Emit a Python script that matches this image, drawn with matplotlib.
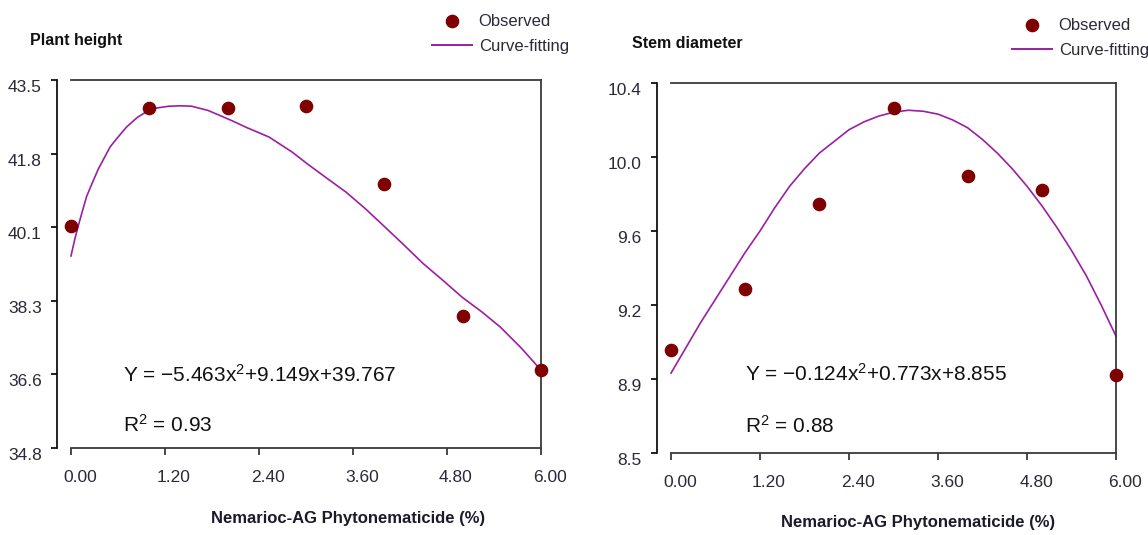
import matplotlib
matplotlib.use("Agg")
import matplotlib.pyplot as plt
import matplotlib.transforms as mtrans
import numpy as np
from matplotlib.lines import Line2D

# ---------------- data ----------------
conc = [0, 1, 2, 3, 4, 5, 6]
height_obs = [40.05, 42.84, 42.84, 42.88, 41.04, 37.92, 36.64]
stem_obs = [9.03, 9.34, 9.78, 10.27, 9.92, 9.85, 8.90]

height_fit_x = [0.00, 0.05, 0.10, 0.15, 0.20, 0.27, 0.35, 0.50, 0.60, 0.71, 0.85, 1.00,
                1.10, 1.25, 1.40, 1.54, 1.75, 2.04, 2.25, 2.53, 2.82, 3.03, 3.25,
                3.51, 3.75, 4.01, 4.25, 4.49, 4.75, 4.99, 5.25, 5.48, 5.75, 6.00]
height_fit_y = [39.34, 39.75, 40.10, 40.43, 40.75, 41.06, 41.40, 41.92, 42.15, 42.39, 42.62, 42.79,
                42.84, 42.88, 42.89, 42.88, 42.78, 42.55, 42.37, 42.15, 41.80, 41.50, 41.20,
                40.85, 40.47, 40.02, 39.60, 39.17, 38.76, 38.37, 38.01, 37.66, 37.16, 36.64]

stem_fit_x = [0.0, 0.2, 0.4, 0.6, 0.8, 1.0, 1.2, 1.4, 1.6, 1.8, 2.0, 2.2, 2.4, 2.6, 2.8, 3.0,
              3.2, 3.4, 3.6, 3.8, 4.0, 4.2, 4.4, 4.6, 4.8, 5.0, 5.2, 5.4, 5.6, 5.8, 6.0]
stem_fit_y = [8.91, 9.04, 9.17, 9.29, 9.41, 9.53, 9.64, 9.76, 9.87, 9.96, 10.04, 10.10, 10.16,
              10.20, 10.23, 10.25, 10.26, 10.255, 10.24, 10.21, 10.17, 10.11, 10.04, 9.96, 9.87,
              9.77, 9.66, 9.54, 9.41, 9.26, 9.10]

x_tick_labels = ["0.00", "1.20", "2.40", "3.60", "4.80", "6.00"]
height_ylim = (34.8, 43.5)
height_tick_labels = ["34.8", "36.6", "38.3", "40.1", "41.8", "43.5"]
stem_ylim = (8.5, 10.4)
stem_tick_labels = ["8.5", "8.9", "9.2", "9.6", "10.0", "10.4"]

titles = ["Plant height", "Stem diameter"]
equations = ["Y = \u22125.463x$^2$+9.149x+39.767", "Y = \u22120.124x$^2$+0.773x+8.855"]
r2_texts = ["R$^2$ = 0.93", "R$^2$ = 0.88"]
xlabel = "Nemarioc-AG Phytonematicide (%)"

# ---------------- style ----------------
plt.rcParams["mathtext.fontset"] = "custom"
plt.rcParams["mathtext.rm"] = "Liberation Sans"
plt.rcParams["mathtext.it"] = "Liberation Sans"
plt.rcParams["mathtext.bf"] = "Liberation Sans:bold"

FONT = ["Liberation Sans", "DejaVu Sans"]
OBS_COLOR = "#7f0000"
FIT_COLOR = "#9b1fa3"
TXT = "#2a2a38"

W, H = 1148, 535
fig = plt.figure(figsize=(W / 100, H / 100), dpi=100)

def fx(px):
    return px / W

def fy(py):
    return 1 - py / H

panels = [
    dict(rect=(71, 80, 541, 448), obs=height_obs, fx_=height_fit_x, fy_=height_fit_y,
         ylim=height_ylim, ylabels=height_tick_labels, title_pos=(30, 40),
         eq_pos=(123, 375), r2_pos=(123, 425), xl_pos=(348, 519),
         leg_pos=(432, 34)),
    dict(rect=(671, 83, 1116, 453), obs=stem_obs, fx_=stem_fit_x, fy_=stem_fit_y,
         ylim=stem_ylim, ylabels=stem_tick_labels, title_pos=(632, 44),
         eq_pos=(745, 374), r2_pos=(745, 426), xl_pos=(918, 522),
         leg_pos=(1012, 38)),
]

xshift = mtrans.ScaledTranslation(9 / 100, 0, fig.dpi_scale_trans)
yshift = mtrans.ScaledTranslation(0, -6 / 100, fig.dpi_scale_trans)

for i, p in enumerate(panels):
    x0, y0, x1, y1 = p["rect"]
    ax = fig.add_axes([fx(x0), fy(y1), (x1 - x0) / W, (y1 - y0) / H])
    ax.set_xlim(0, 6)
    ax.set_ylim(*p["ylim"])
    ax.plot(p["fx_"], p["fy_"], color=FIT_COLOR, lw=1.2, zorder=2, clip_on=False)
    ax.plot(conc, p["obs"], "o", color=OBS_COLOR, ms=8.8, mec=OBS_COLOR,
            zorder=3, clip_on=False, linestyle="none")
    ax.set_xticks(np.linspace(0, 6, 6))
    ax.set_xticklabels(x_tick_labels)
    ax.set_yticks(np.linspace(p["ylim"][0], p["ylim"][1], 6))
    ax.set_yticklabels(p["ylabels"])
    for sp in ax.spines.values():
        sp.set_linewidth(1.3)
        sp.set_color("#3a3a3a")
    ax.spines["left"].set_color("#111111")
    ax.spines["left"].set_position(("outward", 10))
    ax.tick_params(axis="y", length=4, width=1.3, color="#111111", pad=7)
    ax.tick_params(axis="x", length=5, width=1.3, color="#3a3a3a", pad=11)
    for lab in ax.get_xticklabels():
        lab.set_family(FONT)
        lab.set_fontsize(12.5)
        lab.set_color(TXT)
        lab.set_transform(lab.get_transform() + xshift)
    for lab in ax.get_yticklabels():
        lab.set_family(FONT)
        lab.set_fontsize(12.5)
        lab.set_color(TXT)
        lab.set_transform(lab.get_transform() + yshift)

    fig.text(fx(p["title_pos"][0]), fy(p["title_pos"][1]), titles[i],
             family=FONT, fontsize=11.5, fontweight="bold", color="#111111",
             ha="left", va="center")
    fig.text(fx(p["eq_pos"][0]), fy(p["eq_pos"][1]), equations[i],
             family=FONT, fontsize=15, color="#111111", ha="left", va="center")
    fig.text(fx(p["r2_pos"][0]), fy(p["r2_pos"][1]), r2_texts[i],
             family=FONT, fontsize=15, color="#111111", ha="left", va="center")
    fig.text(fx(p["xl_pos"][0]), fy(p["xl_pos"][1]), xlabel,
             family=FONT, fontsize=12, fontweight="bold", color="#1a1a2a",
             ha="center", va="center")

    handles = [Line2D([], [], marker="o", color=OBS_COLOR, ms=8.8, linestyle="none"),
               Line2D([], [], color=FIT_COLOR, lw=1.4)]
    leg = ax.legend(handles, ["Observed", "Curve-fitting"], loc="center left",
                    bbox_to_anchor=(fx(p["leg_pos"][0]), fy(p["leg_pos"][1])),
                    bbox_transform=fig.transFigure, frameon=False,
                    handlelength=2.4, handletextpad=0.4, labelspacing=0.55,
                    borderpad=0, borderaxespad=0,
                    prop=dict(family=FONT, size=12))
    for t in leg.get_texts():
        t.set_color(TXT)

fig.savefig("out.png", dpi=100)
